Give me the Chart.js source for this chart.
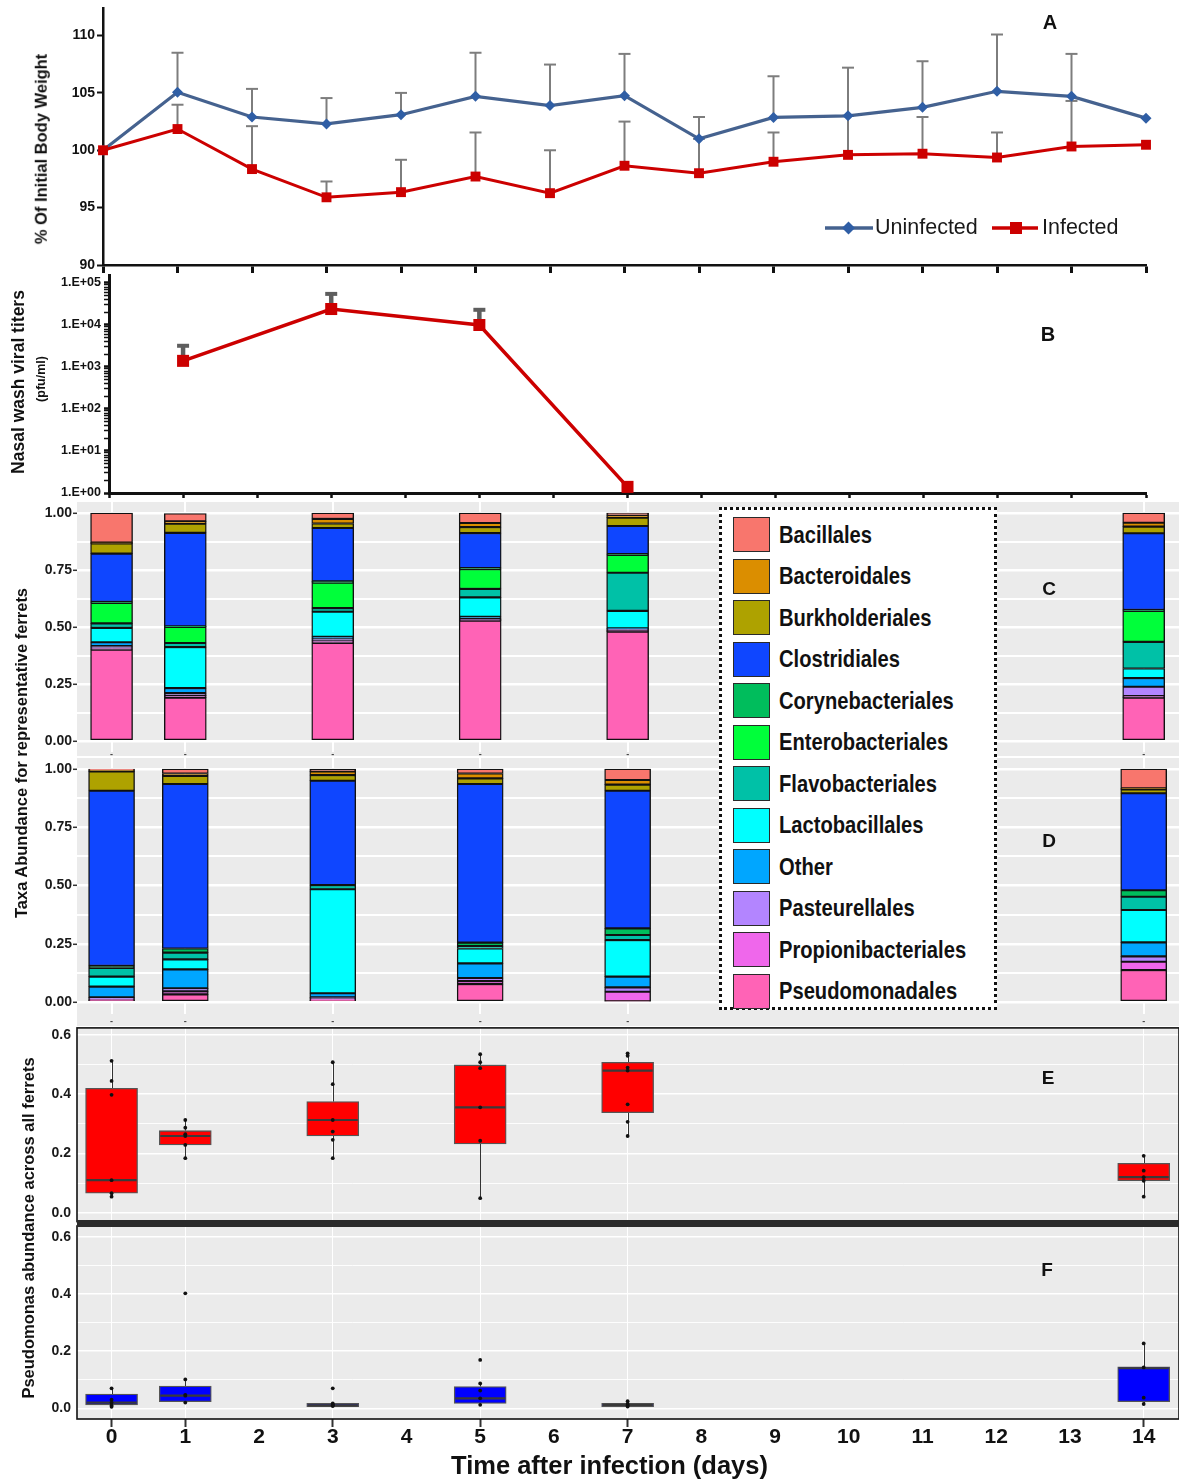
<!DOCTYPE html>
<html lang="en">
<head>
<meta charset="utf-8">
<title>Ferret influenza infection: body weight, viral titers and nasal microbiota</title>
<script src="https://cdn.jsdelivr.net/npm/chart.js@4.4.1/dist/chart.umd.min.js"></script>
<style>
  html, body { margin:0; padding:0; background:#fff; }
  #fig { position:relative; width:1179px; height:1482px; overflow:hidden; font-family:"Liberation Sans", Arial, sans-serif; color:#111; }
  #fig canvas { position:absolute; left:0; }
  .bg { position:absolute; background:#EBEBEB; }
  .band { position:absolute; background:#2b2b2b; }
  .t { position:absolute; white-space:nowrap; font-weight:bold; line-height:1; color:#111; }
  .ctr { transform:translate(-50%,-50%); }
  .rot { transform:translate(-50%,-50%) rotate(-90deg); }
  #taxaLegend { position:absolute; left:719px; top:507px; width:278px; height:503px; box-sizing:border-box; border:3px dotted #111; background:#fff; }
  .lg-row { position:absolute; left:11px; height:35px; width:250px; }
  .lg-sw { position:absolute; left:0; top:0; width:37px; height:35px; box-sizing:border-box; border:1.5px solid #2a2a2a; }
  .lg-tx { position:absolute; left:46px; top:50%; transform-origin:0 50%; transform:translateY(-50%) scaleX(0.84); font-weight:bold; font-size:24px; white-space:nowrap; line-height:1; color:#111; }
</style>
</head>
<body>
<div id="fig">
  <div class="bg" style="left:77px;top:502px;width:1102px;height:254px"></div>
  <div class="bg" style="left:77px;top:757.5px;width:1102px;height:268.5px"></div>
  <div class="bg" style="left:77px;top:1028px;width:1102px;height:194px"></div>
  <div class="bg" style="left:77px;top:1226px;width:1102px;height:193px"></div>

  <canvas id="chartA" width="1179" height="290" style="top:0px"></canvas>
  <canvas id="chartB" width="1179" height="240" style="top:270px"></canvas>
  <canvas id="chartC" width="1179" height="275" style="top:490px"></canvas>
  <canvas id="chartD" width="1179" height="290" style="top:745px"></canvas>
  <canvas id="chartE" width="1179" height="205" style="top:1020px"></canvas>
  <canvas id="chartF" width="1179" height="267" style="top:1215px"></canvas>

  <div class="band" style="left:77px;top:1220px;width:1102px;height:6.5px"></div>

  <div id="taxaLegend"></div>

  <div class="t rot" style="left:41px;top:149px;font-size:16.5px">% Of Initial Body Weight</div>
  <div class="t rot" style="left:18.5px;top:382px;font-size:17.5px">Nasal wash viral titers</div>
  <div class="t rot" style="left:40.5px;top:379px;font-size:12.5px">(pfu/ml)</div>
  <div class="t rot" style="left:20.5px;top:753px;font-size:16.5px">Taxa Abundance for representative ferrets</div>
  <div class="t rot" style="left:28px;top:1228px;font-size:16.5px">Pseudomonas abundance across all ferrets</div>
  <div class="t ctr" style="left:609.5px;top:1466px;font-size:25.5px">Time after infection (days)</div>

  <div class="t ctr" style="left:1050px;top:22px;font-size:20px">A</div>
  <div class="t ctr" style="left:1048px;top:334px;font-size:20px">B</div>
  <div class="t ctr" style="left:1049px;top:588px;font-size:19px">C</div>
  <div class="t ctr" style="left:1049px;top:840px;font-size:19px">D</div>
  <div class="t ctr" style="left:1048px;top:1077px;font-size:19px">E</div>
  <div class="t ctr" style="left:1047px;top:1269px;font-size:19px">F</div>
</div>

<script>
// ---------- Panel A: body weight (% of day 0), mean and upper error bar ----------
const weightDays = [0,1,2,3,4,5,6,7,8,9,10,11,12,13,14];
const uninfectedWeight = [100, 105.05, 102.9, 102.3, 103.1, 104.7, 103.9, 104.76, 101.0, 102.86, 103.0, 103.74, 105.14, 104.7, 102.8];
const uninfectedErrTop = [null, 108.5, 105.35, 104.55, 105.0, 108.5, 107.47, 108.4, 102.9, 106.45, 107.2, 107.76, 110.09, 108.4, null];
const infectedWeight   = [100, 101.85, 98.36, 95.9, 96.35, 97.71, 96.26, 98.65, 98.0, 99.0, 99.6, 99.7, 99.37, 100.33, 100.48];
const infectedErrTop   = [null, 103.97, 102.1, 97.28, 99.17, 101.55, 100.0, 102.5, 101.0, 101.55, 103.0, 102.9, 101.55, 104.3, null];
const weightTicks = [90, 95, 100, 105, 110];

// ---------- Panel B: nasal wash viral titers (pfu/ml) ----------
const titerDays = [1, 3, 5, 7];
const titerMean = [1400, 24000, 10000, 1.4];
const titerErrTop = [3200, 55000, 23000, null];

// ---------- Panels C and D: order-level taxa abundance ----------
const taxa = ['Bacillales','Bacteroidales','Burkholderiales','Clostridiales','Corynebacteriales','Enterobacteriales',
              'Flavobacteriales','Lactobacillales','Other','Pasteurellales','Propionibacteriales','Pseudomonadales'];
const taxaColors = ['#F8766D','#DB8E00','#AEA200','#0F46FF','#00BD5C','#00FF3A',
                    '#00C1A7','#00FFFF','#00A6FF','#B385FF','#EF67EB','#FF63B6'];
const sampleDays = [0, 1, 3, 5, 7, 14];

// panel C, values per sampling day
const cBacillales          = [0.130, 0.035, 0.026, 0.044, 0.010, 0.043];
const cBacteroidales       = [0.004, 0.010, 0.020, 0.018, 0.010, 0.017];
const cBurkholderiales     = [0.044, 0.040, 0.020, 0.026, 0.037, 0.029];
const cClostridiales       = [0.212, 0.410, 0.234, 0.153, 0.123, 0.336];
const cCorynebacteriales   = [0.004, 0.003, 0.006, 0.005, 0.004, 0.004];
const cEnterobacteriales   = [0.090, 0.070, 0.111, 0.087, 0.078, 0.136];
const cFlavobacteriales    = [0.020, 0.018, 0.016, 0.037, 0.167, 0.117];
const cLactobacillales     = [0.063, 0.180, 0.110, 0.085, 0.077, 0.042];
const cOther               = [0.017, 0.022, 0.009, 0.009, 0.004, 0.038];
const cPasteurellales      = [0.008, 0.010, 0.009, 0.004, 0.005, 0.041];
const cPropionibacteriales = [0.008, 0.010, 0.009, 0.004, 0.005, 0.007];
const cPseudomonadales     = [0.400, 0.190, 0.430, 0.528, 0.480, 0.190];

// panel D, values per sampling day
const dBacillales          = [0.005, 0.019, 0.010, 0.019, 0.047, 0.083];
const dBacteroidales       = [0.005, 0.011, 0.016, 0.021, 0.020, 0.004];
const dBurkholderiales     = [0.083, 0.034, 0.024, 0.024, 0.026, 0.017];
const dClostridiales       = [0.752, 0.706, 0.448, 0.681, 0.591, 0.416];
const dCorynebacteriales   = [0.009, 0.018, 0.000, 0.015, 0.028, 0.028];
const dEnterobacteriales   = [0.000, 0.000, 0.000, 0.000, 0.000, 0.000];
const dFlavobacteriales    = [0.037, 0.029, 0.018, 0.010, 0.022, 0.057];
const dLactobacillales     = [0.043, 0.043, 0.446, 0.064, 0.157, 0.139];
const dOther               = [0.046, 0.081, 0.018, 0.063, 0.046, 0.060];
const dPasteurellales      = [0.008, 0.013, 0.006, 0.013, 0.019, 0.023];
const dPropionibacteriales = [0.006, 0.013, 0.007, 0.013, 0.040, 0.036];
const dPseudomonadales     = [0.006, 0.033, 0.007, 0.077, 0.004, 0.137];

const abundanceTicks = [0, 0.125, 0.25, 0.375, 0.5, 0.625, 0.75, 0.875, 1];

// ---------- Panels E and F: Pseudomonas abundance box plots ----------
const eLow    = [0.054, 0.184, 0.184, 0.049, 0.259, 0.054];
const eQ1     = [0.066, 0.229, 0.259, 0.232, 0.338, 0.108];
const eMedian = [0.110, 0.259, 0.313, 0.356, 0.480, 0.120];
const eQ3     = [0.420, 0.277, 0.375, 0.499, 0.508, 0.167];
const eHigh   = [0.513, 0.313, 0.508, 0.535, 0.538, 0.192];
const ePoints = [[0.513,0.445,0.398,0.110,0.066,0.054],
                 [0.313,0.287,0.265,0.259,0.229,0.184],
                 [0.508,0.434,0.313,0.274,0.246,0.184],
                 [0.535,0.508,0.488,0.356,0.243,0.049],
                 [0.538,0.530,0.490,0.480,0.366,0.307,0.259],
                 [0.192,0.142,0.120,0.108,0.054]];

const fLow    = [0.006, 0.020, 0.006, 0.012, 0.006, 0.015];
const fQ1     = [0.012, 0.023, 0.006, 0.017, 0.006, 0.023];
const fMedian = [0.020, 0.044, 0.010, 0.035, 0.012, 0.140];
const fQ3     = [0.050, 0.078, 0.017, 0.076, 0.017, 0.145];
const fHigh   = [0.070, 0.101, 0.017, 0.087, 0.025, 0.227];
const fPoints = [[0.070,0.030,0.020,0.010,0.005],
                 [0.402,0.101,0.047,0.044,0.020],
                 [0.070,0.017,0.012,0.010,0.008],
                 [0.169,0.087,0.062,0.035,0.012],
                 [0.025,0.015,0.010,0.006],
                 [0.227,0.143,0.037,0.015]];
const pseudoTicks = [0, 0.1, 0.2, 0.3, 0.4, 0.5, 0.6];

// ---------- layout helpers ----------
const FIG_W = 1179;
const X_MIN = -0.469, X_MAX = 14.479;   // shared day axis of panels C-F
const BLUE_LINE = '#45628F', BLUE_PT = '#2F5EA5', RED = '#CC0000';

function fitWidth(w){ return s => { s.width = w; s.paddingLeft = s.paddingRight = s.paddingTop = s.paddingBottom = 0; }; }
function fitHeight(h){ return s => { s.height = h; s.paddingLeft = s.paddingRight = s.paddingTop = s.paddingBottom = 0; }; }
function frame(cTop, cH, left, right, top, bottom){
  return { padding:{left:0, right:FIG_W-right, top:top-cTop, bottom:0}, yW:left, xH:cTop+cH-bottom, bottom:bottom };
}
function base(f){
  return { responsive:false, animation:false, devicePixelRatio:1, events:[],
           layout:{autoPadding:false, padding:f.padding},
           plugins:{legend:{display:false}, tooltip:{enabled:false}} };
}
function tickList(vals){ return s => { s.ticks = vals.map(v => ({value:v})); }; }
const isQuarter = v => Math.abs(v*4 - Math.round(v*4)) < 1e-9;
const isEvenTenth = v => Math.round(v*10) % 2 === 0;
const isPow10 = v => Math.abs(Math.log10(v) - Math.round(Math.log10(v))) < 1e-9;

// upward error bars drawn from each mean to its top value
function errorBars(sets, st){
  return {
    id:'errorBars',
    beforeDatasetsDraw(chart){
      const {ctx} = chart, x = chart.scales.x, y = chart.scales.y;
      ctx.save(); ctx.strokeStyle = st.color; ctx.lineCap = 'butt';
      sets.forEach(s => s.xs.forEach((d,i) => {
        const top = s.top[i]; if (top == null) return;
        const px = x.getPixelForValue(d), p0 = y.getPixelForValue(s.mean[i]), p1 = y.getPixelForValue(top);
        ctx.lineWidth = st.width; ctx.beginPath(); ctx.moveTo(px, p0); ctx.lineTo(px, p1); ctx.stroke();
        ctx.lineWidth = st.capWidth; ctx.beginPath(); ctx.moveTo(px - st.cap, p1); ctx.lineTo(px + st.cap, p1); ctx.stroke();
      }));
      ctx.restore();
    }
  };
}

// ---------- Panel A ----------
const fA = frame(0, 290, 103, 1146, 8, 265);
const weightLegend = {
  id:'weightLegend',
  afterDraw(chart){
    const c = chart.ctx, y = 228;
    const [inf, uninf] = chart.data.datasets;
    c.save();
    c.font = '21.5px "Liberation Sans", Arial, sans-serif'; c.textBaseline = 'middle';
    c.strokeStyle = BLUE_LINE; c.lineWidth = 3.5;
    c.beginPath(); c.moveTo(825, y); c.lineTo(873, y); c.stroke();
    c.fillStyle = BLUE_PT; c.beginPath(); c.moveTo(842, y); c.lineTo(848.5, y-6.5); c.lineTo(855, y); c.lineTo(848.5, y+6.5); c.closePath(); c.fill();
    c.fillStyle = '#1a1a1a'; c.fillText(uninf.label, 875, y);
    c.strokeStyle = RED; c.beginPath(); c.moveTo(992, y); c.lineTo(1038, y); c.stroke();
    c.fillStyle = RED; c.fillRect(1010, y-6, 12, 12);
    c.fillStyle = '#1a1a1a'; c.fillText(inf.label, 1042, y);
    c.restore();
  }
};
new Chart(document.getElementById('chartA'), {
  type:'line',
  data:{ datasets:[
    { label:'Infected', data: weightDays.map((d,i)=>({x:d, y:infectedWeight[i]})),
      borderColor:RED, borderWidth:3, pointStyle:'rect', pointRadius:7, pointBackgroundColor:RED, pointBorderWidth:0, clip:false },
    { label:'Uninfected', data: weightDays.map((d,i)=>({x:d, y:uninfectedWeight[i]})),
      borderColor:BLUE_LINE, borderWidth:3.2, pointStyle:'rectRot', pointRadius:5.5, pointBackgroundColor:BLUE_PT, pointBorderWidth:0, clip:false }
  ]},
  options: Object.assign(base(fA), { scales:{
    x:{ type:'linear', min:0, max:14, afterBuildTicks:tickList(weightDays),
        ticks:{display:false}, grid:{drawOnChartArea:false, tickLength:8, tickWidth:3, tickColor:'#111'},
        border:{color:'#111', width:2.5}, afterFit:fitHeight(fA.xH) },
    y:{ min:90, max:112.4, afterBuildTicks:tickList(weightTicks),
        ticks:{font:{size:14, weight:'bold'}, color:'#111', padding:2},
        grid:{drawOnChartArea:false, tickLength:6, tickWidth:2, tickColor:'#111'},
        border:{color:'#111', width:2.5}, afterFit:fitWidth(fA.yW) }
  }}),
  plugins:[ errorBars([{xs:weightDays, mean:uninfectedWeight, top:uninfectedErrTop},
                       {xs:weightDays, mean:infectedWeight, top:infectedErrTop}],
                      {color:'#7d7d7d', width:2, cap:6, capWidth:2}), weightLegend ]
});

// ---------- Panel B ----------
const fB = frame(270, 240, 109, 1146, 275, 493);
const logTicks = [];
for (let e = 0; e < 5; e++) for (let m = 1; m < 10; m++) logTicks.push(m * Math.pow(10, e));
logTicks.push(1e5);
new Chart(document.getElementById('chartB'), {
  type:'line',
  data:{ datasets:[
    { label:'Infected', data: titerDays.map((d,i)=>({x:d, y:titerMean[i]})),
      borderColor:RED, borderWidth:3.5, pointStyle:'rect', pointRadius:8.5, pointBackgroundColor:RED, pointBorderWidth:0, clip:false }
  ]},
  options: Object.assign(base(fB), { scales:{
    x:{ type:'linear', min:0, max:14, afterBuildTicks:tickList(weightDays),
        ticks:{display:false}, grid:{drawOnChartArea:false, tickLength:5, tickWidth:2.5, tickColor:'#111'},
        border:{color:'#111', width:3}, afterFit:fitHeight(fB.xH) },
    y:{ type:'logarithmic', min:1, max:155000, afterBuildTicks:tickList(logTicks),
        ticks:{autoSkip:false, font:{size:12.5, weight:'bold'}, color:'#111', padding:3,
               callback: v => isPow10(v) ? '1.E+0' + Math.round(Math.log10(v)) : ''},
        grid:{drawOnChartArea:false, tickLength:5, tickColor:'#111',
              tickWidth: c => (c.tick && isPow10(c.tick.value)) ? 2.5 : 1.5},
        border:{color:'#111', width:3}, afterFit:fitWidth(fB.yW) }
  }}),
  plugins:[ errorBars([{xs:titerDays, mean:titerMean, top:titerErrTop}],
                      {color:'#5e5e5e', width:4.5, cap:6, capWidth:4}) ]
});

// ---------- Panels C and D: stacked taxa bars ----------
function taxaChart(id, f, values, barW, labelPad){
  const datasets = taxa.map((name, k) => ({
    label:name,
    data: sampleDays.map((d,i) => ({x:d, y:values[k][i]})).filter(p => p.y > 0),
    backgroundColor: taxaColors[k], borderColor:'#111', borderWidth:1.4, borderSkipped:false, barThickness:barW
  })).reverse();   // first taxon sits on top of each stack
  return new Chart(document.getElementById(id), {
    type:'bar',
    data:{ datasets },
    options: Object.assign(base(f), { scales:{
      x:{ type:'linear', min:X_MIN, max:X_MAX, offset:false, stacked:true, afterBuildTicks:tickList(sampleDays),
          ticks:{callback:() => '-', autoSkip:false, maxRotation:0, font:{size:9, weight:'bold', lineHeight:1}, color:'#444', padding:labelPad},
          grid:{offset:false, color:'#fff', lineWidth:2, drawTicks:false}, border:{display:false}, afterFit:fitHeight(f.xH) },
      y:{ min:-0.05, max:1.05, stacked:true, afterBuildTicks:tickList(abundanceTicks),
          ticks:{autoSkip:false, callback: v => isQuarter(v) ? v.toFixed(2) : '', font:{size:14, weight:'bold'}, color:'#1a1a1a', padding:1},
          grid:{color:'#fff', lineWidth: c => (c.tick && isQuarter(c.tick.value)) ? 2.6 : 2,
                tickColor: c => (c.tick && isQuarter(c.tick.value)) ? '#333' : 'rgba(0,0,0,0)', tickLength:4, tickWidth:1.5},
          border:{display:false}, afterFit:fitWidth(f.yW) }
    }})
  });
}
const cValues = [cBacillales, cBacteroidales, cBurkholderiales, cClostridiales, cCorynebacteriales, cEnterobacteriales,
                 cFlavobacteriales, cLactobacillales, cOther, cPasteurellales, cPropionibacteriales, cPseudomonadales];
const dValues = [dBacillales, dBacteroidales, dBurkholderiales, dClostridiales, dCorynebacteriales, dEnterobacteriales,
                 dFlavobacteriales, dLactobacillales, dOther, dPasteurellales, dPropionibacteriales, dPseudomonadales];
taxaChart('chartC', frame(490, 275, 77, 1179, 501.6, 752.4), cValues, 42, -2.4);
taxaChart('chartD', frame(745, 290, 77, 1179, 757.4, 1013.7), dValues, 46, 3.3);

// ---------- Panels E and F: box plots ----------
const BOX_W = 52;
function boxExtras(stats, medianColor){
  return {
    id:'boxExtras',
    beforeDatasetsDraw(chart){
      const {ctx} = chart, x = chart.scales.x, y = chart.scales.y;
      ctx.save(); ctx.strokeStyle = '#333'; ctx.lineWidth = 1;
      sampleDays.forEach((d,i) => {
        const px = Math.round(x.getPixelForValue(d)) + 0.5;
        ctx.beginPath();
        ctx.moveTo(px, y.getPixelForValue(stats.high[i])); ctx.lineTo(px, y.getPixelForValue(stats.q3[i]));
        ctx.moveTo(px, y.getPixelForValue(stats.q1[i]));   ctx.lineTo(px, y.getPixelForValue(stats.low[i]));
        ctx.stroke();
      });
      ctx.restore();
    },
    afterDatasetDraw(chart, args){
      if (args.index !== 0) return;
      const {ctx} = chart, x = chart.scales.x, y = chart.scales.y;
      ctx.save(); ctx.strokeStyle = medianColor; ctx.lineWidth = 2.2;
      sampleDays.forEach((d,i) => {
        const px = x.getPixelForValue(d), py = y.getPixelForValue(stats.median[i]);
        ctx.beginPath(); ctx.moveTo(px - BOX_W/2 + 1, py); ctx.lineTo(px + BOX_W/2 - 1, py); ctx.stroke();
      });
      ctx.restore();
    },
    afterDatasetsDraw(chart){
      const {ctx, chartArea:a} = chart;
      ctx.save(); ctx.strokeStyle = '#111'; ctx.lineWidth = 1.6;
      ctx.strokeRect(a.left, a.top, a.right - a.left, a.bottom - a.top);
      ctx.restore();
    }
  };
}
function boxChart(id, f, stats, fill, yMin, yMax, dayLabels){
  const xAxis = dayLabels
    ? { type:'linear', min:X_MIN, max:X_MAX, offset:false, afterBuildTicks:tickList(weightDays),
        ticks:{autoSkip:false, maxRotation:0, font:{size:21, weight:'bold', lineHeight:1}, color:'#111', padding:0},
        grid:{ offset:false, color: c => (c.tick && sampleDays.includes(c.tick.value)) ? '#fff' : 'rgba(0,0,0,0)', lineWidth:1,
               tickColor: c => (c.tick && sampleDays.includes(c.tick.value)) ? '#333' : 'rgba(0,0,0,0)', tickLength:8, tickWidth:2 },
        border:{display:false}, afterFit:fitHeight(f.xH) }
    : { type:'linear', min:X_MIN, max:X_MAX, offset:false, afterBuildTicks:tickList(sampleDays),
        ticks:{display:false}, grid:{offset:false, color:'#fff', lineWidth:1, drawTicks:false},
        border:{display:false}, afterFit:fitHeight(f.xH) };
  return new Chart(document.getElementById(id), {
    type:'bar',
    data:{ datasets:[
      { type:'bar', label:'box', order:2,
        data: sampleDays.map((d,i) => ({x:d, y:[stats.q1[i], stats.q3[i]]})),
        backgroundColor:fill, borderColor:'#555', borderWidth:1.3, borderSkipped:false, barThickness:BOX_W },
      { type:'scatter', label:'ferrets', order:1,
        data: sampleDays.flatMap((d,i) => stats.points[i].map(v => ({x:d, y:v}))),
        pointRadius:1.9, pointBackgroundColor:'#111', pointBorderWidth:0 }
    ]},
    options: Object.assign(base(f), { scales:{
      x: xAxis,
      y:{ min:yMin, max:yMax, afterBuildTicks:tickList(pseudoTicks),
          ticks:{autoSkip:false, callback: v => isEvenTenth(v) ? v.toFixed(1) : '', font:{size:14, weight:'bold'}, color:'#1a1a1a', padding:6},
          grid:{color:'#fff', lineWidth: c => (c.tick && isEvenTenth(c.tick.value)) ? 1.6 : 0.9, drawTicks:false},
          border:{display:false}, afterFit:fitWidth(f.yW) }
    }}),
    plugins:[ boxExtras(stats, '#3a3a3a') ]
  });
}
boxChart('chartE', frame(1020, 205, 77, 1179, 1027.9, 1221.6),
  {low:eLow, q1:eQ1, median:eMedian, q3:eQ3, high:eHigh, points:ePoints}, '#FF0000', -0.03, 0.624, false);
boxChart('chartF', frame(1215, 267, 77, 1179, 1226, 1419),
  {low:fLow, q1:fQ1, median:fMedian, q3:fQ3, high:fHigh, points:fPoints}, '#0000FF', -0.0374, 0.6374, true);

// ---------- taxa legend ----------
const lg = document.getElementById('taxaLegend');
taxa.forEach((name, k) => {
  const row = document.createElement('div');
  row.className = 'lg-row';
  row.style.top = (7.3 + k * 41.5) + 'px';
  row.innerHTML = '<div class="lg-sw" style="background:' + taxaColors[k] + '"></div><div class="lg-tx">' + name + '</div>';
  lg.appendChild(row);
});
</script>
</body>
</html>
